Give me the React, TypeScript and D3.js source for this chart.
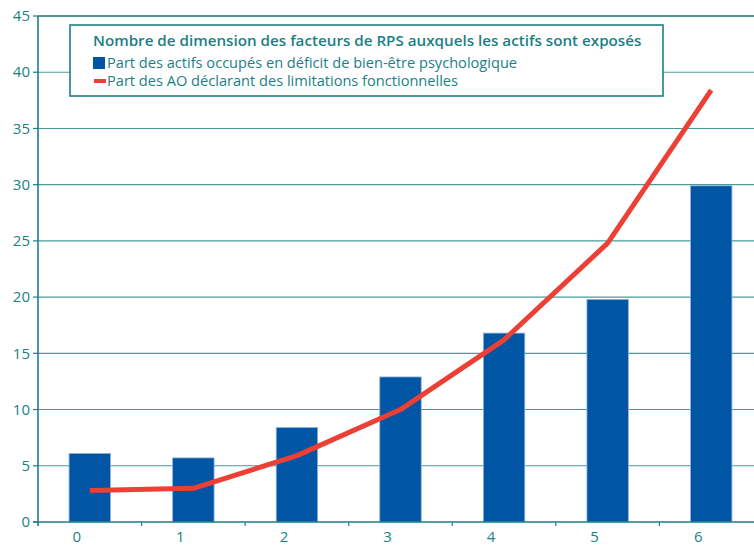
import React from "react";
import * as d3 from "d3";

const categories = ["0", "1", "2", "3", "4", "5", "6"];
const barValues = [6.1, 5.7, 8.4, 12.9, 16.8, 19.8, 29.9];
const lineValues = [2.8, 3.0, 5.9, 10.0, 16.2, 24.8, 38.4];
const yTicks = [0, 5, 10, 15, 20, 25, 30, 35, 40, 45];
const legendTitle = "Nombre de dimension des facteurs de RPS auxquels les actifs sont exposés";
const barLabel = "Part des actifs occupés en déficit de bien-être psychologique";
const lineLabel = "Part des AO déclarant des limitations fonctionnelles";

const W = 754, H = 545;
const left = 38, right = 763, top = 16, bottom = 522;
const teal = "#1b7f86";
const grid = "#4a9a9c";
const blue = "#0055a4";
const red = "#ec3f35";
const font = "'Open Sans', 'Noto Sans', sans-serif";

export default function App() {
  const x = d3.scaleBand<string>().domain(categories).range([left, right]).paddingInner(0.6).paddingOuter(0.3);
  const y = d3.scaleLinear().domain([0, 45]).range([bottom, top]);
  const step = x.step();
  const line = d3.line<number>()
    .x((_, i) => (x(categories[i]) as number) + x.bandwidth() / 2)
    .y((d) => y(d));
  const boundaries = d3.range(1, categories.length).map((i) => left + i * step);
  return (
    <svg width={W} height={H} style={{ position: "absolute", left: 0, top: 0, background: "#fff" }} fontFamily={font}>
      {yTicks.filter((t) => t > 0).map((t) => (
        <line key={"g" + t} x1={left} x2={W} y1={y(t)} y2={y(t)} stroke={t === 45 ? "#1a7478" : grid} strokeWidth={t === 45 ? 1.6 : 1.1} />
      ))}
      {yTicks.map((t) => (
        <g key={"t" + t}>
          <line x1={left - 5} x2={left} y1={y(t)} y2={y(t)} stroke={teal} strokeWidth={1.2} />
          <text x={30} y={y(t)} dy="0.35em" textAnchor="end" fontSize={15} fill={teal}>{t}</text>
        </g>
      ))}
      {categories.map((c, i) => (
        <rect key={"b" + c} x={x(c)} y={y(barValues[i])} width={x.bandwidth()} height={bottom - y(barValues[i])} fill={blue} stroke="#8fb3dc" strokeWidth={0.8} />
      ))}
      <rect x={70} y={25} width={593} height={71} fill="#fff" stroke={teal} strokeWidth={1.6} />
      <text x={93} y={46} fontSize={15.2} fontWeight={600} fill={teal}>{legendTitle}</text>
      <rect x={93} y={57} width={12} height={12} fill={blue} />
      <text x={107} y={67.5} fontSize={14.6} fill={teal}>{barLabel}</text>
      <rect x={94} y={79} width={12} height={4} fill={red} />
      <text x={107} y={85.5} fontSize={14.6} fill={teal}>{lineLabel}</text>
      <path d={line(lineValues) || ""} fill="none" stroke={red} strokeWidth={5} strokeLinejoin="round" />
      <line x1={left} x2={left} y1={top} y2={bottom + 4} stroke={teal} strokeWidth={1.6} />
      <line x1={left - 5} x2={W} y1={bottom} y2={bottom} stroke={teal} strokeWidth={1.6} />
      {boundaries.map((b, i) => (
        <line key={"xt" + i} x1={b} x2={b} y1={bottom} y2={bottom + 4} stroke={teal} strokeWidth={1.2} />
      ))}
      {categories.map((c) => (
        <text key={"xl" + c} x={(x(c) as number) + x.bandwidth() / 2 - 13} y={542} textAnchor="middle" fontSize={15} fill={teal}>{c}</text>
      ))}
    </svg>
  );
}
